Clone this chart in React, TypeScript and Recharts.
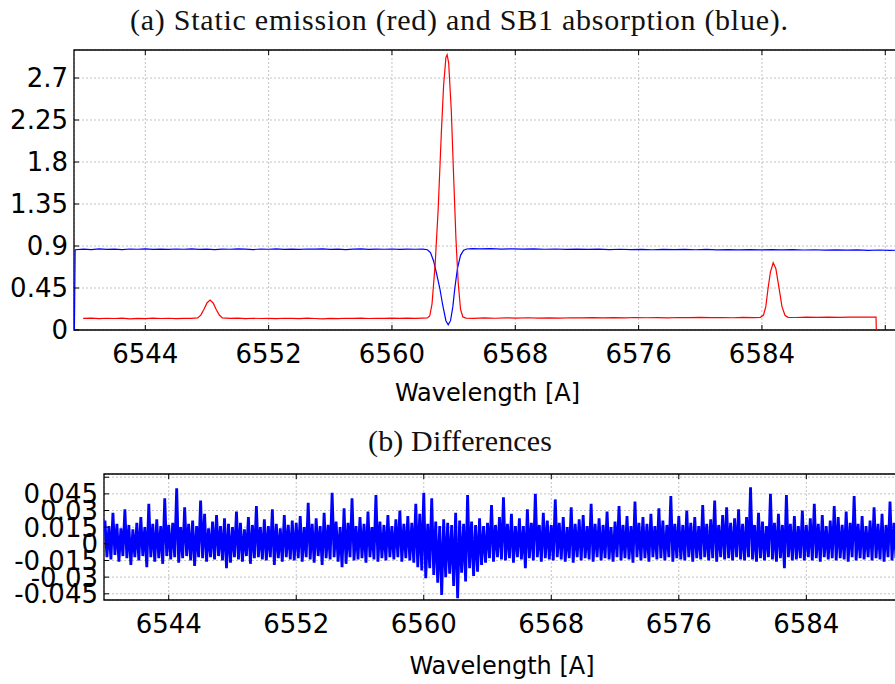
import React from 'react';
import { LineChart, Line, XAxis, YAxis, CartesianGrid, ReferenceArea } from 'recharts';

// ---------- Panel (a): static emission (red) and SB1 absorption (blue) ----------
const redWave = [
  6539.97, 6540.5, 6541.0, 6541.5, 6542.0, 6542.5, 6543.0, 6543.5, 6544.0, 6544.5, 6545.0, 6545.5,
  6546.0, 6546.5, 6547.0, 6547.4, 6547.6, 6547.8, 6548.0, 6548.2, 6548.4, 6548.6, 6548.8, 6549.0,
  6549.5, 6550.0, 6550.5, 6551.0, 6551.5, 6552.0, 6552.5, 6553.0, 6553.5, 6554.0, 6554.5, 6555.0,
  6555.5, 6556.0, 6556.5, 6557.0, 6557.5, 6558.0, 6558.5, 6559.0, 6559.5, 6560.0, 6560.5, 6561.0,
  6561.5, 6562.0, 6562.3, 6562.45, 6562.6, 6562.8, 6563.0, 6563.2, 6563.35, 6563.5, 6563.58, 6563.68,
  6563.85, 6564.0, 6564.15, 6564.3, 6564.45, 6564.6, 6564.8, 6565.3, 6566.0, 6566.7, 6567.4, 6568.1,
  6568.8, 6569.5, 6570.2, 6570.9, 6571.6, 6572.3, 6573.0, 6573.7, 6574.4, 6575.1, 6575.8, 6576.5,
  6577.2, 6577.9, 6578.6, 6579.3, 6580.0, 6580.7, 6581.4, 6582.1, 6582.8, 6583.5, 6583.9, 6584.1,
  6584.25, 6584.4, 6584.55, 6584.73, 6584.9, 6585.1, 6585.3, 6585.5, 6585.7, 6586.2, 6586.9, 6587.6,
  6588.3, 6589.0, 6589.7, 6590.4, 6591.1, 6591.4, 6591.42,
];
const redFlux = [
  0.124, 0.128, 0.121, 0.126, 0.123, 0.127, 0.120, 0.125, 0.122, 0.127, 0.123, 0.126,
  0.121, 0.125, 0.124, 0.129, 0.16, 0.22, 0.29, 0.32, 0.29, 0.22, 0.16, 0.13,
  0.124, 0.127, 0.122, 0.126, 0.123, 0.125, 0.121, 0.126, 0.124, 0.122, 0.127, 0.123,
  0.120, 0.125, 0.122, 0.126, 0.124, 0.127, 0.123, 0.126, 0.124, 0.128, 0.125, 0.127,
  0.124, 0.128, 0.13, 0.15, 0.28, 0.7, 1.3, 2.1, 2.62, 2.92, 2.95, 2.86,
  2.35, 1.65, 0.98, 0.5, 0.22, 0.14, 0.128, 0.125, 0.129, 0.126, 0.13, 0.127,
  0.131, 0.128, 0.13, 0.127, 0.131, 0.129, 0.132, 0.129, 0.133, 0.13, 0.134, 0.131,
  0.133, 0.13, 0.134, 0.132, 0.135, 0.132, 0.134, 0.131, 0.135, 0.133, 0.136, 0.16,
  0.25, 0.45, 0.62, 0.72, 0.66, 0.46, 0.25, 0.155, 0.136, 0.134, 0.137, 0.135,
  0.138, 0.136, 0.139, 0.137, 0.138, 0.137, 0,
];

const blueWave = [
  6539.4, 6539.45, 6540.0, 6540.5, 6541.0, 6541.5, 6542.0, 6542.5, 6543.0, 6543.5, 6544.0, 6544.5,
  6545.0, 6545.5, 6546.0, 6546.5, 6547.0, 6547.5, 6548.0, 6548.5, 6549.0, 6549.5, 6550.0, 6550.5,
  6551.0, 6551.5, 6552.0, 6552.5, 6553.0, 6553.5, 6554.0, 6554.5, 6555.0, 6555.5, 6556.0, 6556.5,
  6557.0, 6557.5, 6558.0, 6558.5, 6559.0, 6559.5, 6560.0, 6560.5, 6561.0, 6561.5, 6562.0, 6562.3,
  6562.5, 6562.7, 6562.9, 6563.1, 6563.3, 6563.5, 6563.65, 6563.8, 6563.95, 6564.08, 6564.25, 6564.45,
  6564.65, 6564.85, 6565.2, 6565.7, 6566.4, 6567.1, 6567.8, 6568.5, 6569.2, 6569.9, 6570.6, 6571.3,
  6572.0, 6572.7, 6573.4, 6574.1, 6574.8, 6575.5, 6576.2, 6576.9, 6577.6, 6578.3, 6579.0, 6579.7,
  6580.4, 6581.1, 6581.8, 6582.5, 6583.2, 6583.9, 6584.6, 6585.3, 6586.0, 6586.7, 6587.4, 6588.1,
  6588.8, 6589.5, 6590.2, 6590.9, 6591.6, 6592.3, 6593.0, 6593.3,
];
const blueFlux = [
  0, 0.86, 0.866, 0.861, 0.869, 0.864, 0.867, 0.862, 0.868, 0.865, 0.87, 0.864,
  0.867, 0.863, 0.868, 0.865, 0.869, 0.864, 0.866, 0.862, 0.867, 0.865, 0.869, 0.866,
  0.862, 0.868, 0.865, 0.869, 0.864, 0.867, 0.863, 0.868, 0.866, 0.869, 0.864, 0.867,
  0.862, 0.866, 0.869, 0.864, 0.867, 0.865, 0.868, 0.864, 0.867, 0.865, 0.866, 0.86,
  0.83, 0.74, 0.6, 0.45, 0.26, 0.1, 0.055, 0.1, 0.25, 0.45, 0.66, 0.8,
  0.855, 0.868, 0.872, 0.869, 0.871, 0.867, 0.87, 0.866, 0.869, 0.865, 0.868, 0.864,
  0.867, 0.863, 0.866, 0.862, 0.865, 0.861, 0.864, 0.86, 0.864, 0.861, 0.863, 0.86,
  0.863, 0.859, 0.862, 0.858, 0.861, 0.858, 0.862, 0.859, 0.861, 0.857, 0.86, 0.856,
  0.859, 0.855, 0.858, 0.854, 0.857, 0.853, 0.856, 0.855,
];

const topXTicks = [6544, 6552, 6560, 6568, 6576, 6584, 6592];
const topXLabels = ['6544', '6552', '6560', '6568', '6576', '6584', ''];
const topXMinor = [6540, 6542, 6546, 6548, 6550, 6554, 6556, 6558, 6562, 6564, 6566, 6570, 6572, 6574, 6578, 6580, 6582, 6586, 6588, 6590];
const topYTicks = [0, 0.45, 0.9, 1.35, 1.8, 2.25, 2.7];
const topYLabels = ['0', '0.45', '0.9', '1.35', '1.8', '2.25', '2.7'];
const topYMinor = [0.15, 0.3, 0.6, 0.75, 1.05, 1.2, 1.5, 1.65, 1.95, 2.1, 2.4, 2.55, 2.85];

// ---------- Panel (b): differences ----------
const diffStart = 6540.0;
const diffStep = 0.125;
const diffValues = [
  0.021, -0.012, 0.016, -0.014, 0.028, -0.010, 0.018, -0.016, 0.014, -0.011, 0.031, -0.013, 0.017, -0.019, 0.013, -0.012,
  0.019, -0.015, 0.024, -0.011, 0.015, -0.021, 0.036, -0.012, 0.018, -0.016, 0.022, -0.013, 0.016, -0.018, 0.041, -0.011,
  0.017, -0.014, 0.019, -0.012, 0.050, -0.017, 0.015, -0.013, 0.033, -0.011, 0.018, -0.015, 0.021, -0.020, 0.016, -0.012,
  0.039, -0.013, 0.027, -0.016, 0.014, -0.012, 0.020, -0.014, 0.026, -0.011, 0.016, -0.015, 0.023, -0.022, 0.018, -0.017,
  0.015, -0.012, 0.029, -0.014, 0.019, -0.016, 0.013, -0.011, 0.024, -0.018, 0.017, -0.013, 0.034, -0.012, 0.015, -0.014,
  0.022, -0.015, 0.016, -0.012, 0.031, -0.019, 0.018, -0.013, 0.014, -0.016, 0.026, -0.012, 0.017, -0.014, 0.021, -0.015,
  0.019, -0.013, 0.025, -0.016, 0.015, -0.012, 0.037, -0.014, 0.018, -0.017, 0.023, -0.011, 0.016, -0.019, 0.028, -0.013,
  0.017, -0.014, 0.046, -0.012, 0.020, -0.016, 0.015, -0.021, 0.032, -0.018, 0.019, -0.012, 0.041, -0.015, 0.016, -0.014,
  0.024, -0.013, 0.018, -0.017, 0.029, -0.012, 0.015, -0.014, 0.044, -0.016, 0.020, -0.013, 0.017, -0.015, 0.026, -0.012,
  0.016, -0.014, 0.022, -0.012, 0.030, -0.016, 0.018, -0.013, 0.025, -0.015, 0.019, -0.017, 0.036, -0.021, 0.027, -0.024,
  0.046, -0.031, 0.018, -0.022, 0.041, -0.028, 0.020, -0.035, 0.016, -0.046, 0.022, -0.030, 0.019, -0.027, 0.017, -0.038,
  0.028, -0.049, 0.021, -0.026, 0.018, -0.034, 0.044, -0.022, 0.020, -0.029, 0.017, -0.025, 0.023, -0.019, 0.016, -0.017,
  0.019, -0.013, 0.035, -0.016, 0.017, -0.012, 0.024, -0.014, 0.042, -0.015, 0.018, -0.013, 0.027, -0.017, 0.016, -0.012,
  0.023, -0.014, 0.016, -0.022, 0.031, -0.013, 0.019, -0.015, 0.045, -0.012, 0.017, -0.016, 0.028, -0.013, 0.021, -0.014,
  0.017, -0.015, 0.040, -0.012, 0.019, -0.014, 0.024, -0.016, 0.015, -0.013, 0.033, -0.017, 0.018, -0.012, 0.022, -0.015,
  0.026, -0.013, 0.016, -0.014, 0.036, -0.016, 0.018, -0.012, 0.023, -0.015, 0.017, -0.013, 0.029, -0.014, 0.015, -0.016,
  0.020, -0.012, 0.034, -0.015, 0.017, -0.013, 0.025, -0.014, 0.016, -0.017, 0.038, -0.012, 0.019, -0.015, 0.024, -0.013,
  0.018, -0.016, 0.027, -0.012, 0.016, -0.014, 0.032, -0.013, 0.021, -0.015, 0.017, -0.012, 0.043, -0.016, 0.018, -0.013,
  0.025, -0.014, 0.017, -0.015, 0.030, -0.012, 0.019, -0.016, 0.024, -0.013, 0.016, -0.014, 0.035, -0.012, 0.018, -0.015,
  0.022, -0.013, 0.039, -0.016, 0.017, -0.012, 0.026, -0.014, 0.033, -0.013, 0.019, -0.015, 0.023, -0.012, 0.031, -0.014,
  0.018, -0.015, 0.024, -0.012, 0.051, -0.014, 0.017, -0.016, 0.028, -0.013, 0.020, -0.015, 0.016, -0.012, 0.045, -0.014,
  0.019, -0.016, 0.027, -0.013, 0.017, -0.022, 0.044, -0.012, 0.018, -0.015, 0.025, -0.014, 0.016, -0.013, 0.030, -0.015,
  0.017, -0.012, 0.023, -0.015, 0.036, -0.013, 0.018, -0.016, 0.026, -0.012, 0.016, -0.014, 0.021, -0.013, 0.034, -0.015,
  0.024, -0.013, 0.017, -0.014, 0.029, -0.016, 0.019, -0.012, 0.043, -0.015, 0.018, -0.013, 0.025, -0.014, 0.016, -0.012,
  0.021, -0.015, 0.033, -0.013, 0.018, -0.014, 0.027, -0.016, 0.017, -0.012, 0.038, -0.015, 0.019, -0.013, 0.024, -0.014,
  0.026, -0.013, 0.018,
];

const botXTicks = [6544, 6552, 6560, 6568, 6576, 6584];
const botXLabels = ['6544', '6552', '6560', '6568', '6576', '6584'];
const botXMinor = [6540, 6542, 6546, 6548, 6550, 6554, 6556, 6558, 6562, 6564, 6566, 6570, 6572, 6574, 6578, 6580, 6582, 6586, 6588, 6590];
const botYTicks = [-0.045, -0.03, -0.015, 0, 0.015, 0.03, 0.045, 0.06];
const botYLabels = ['-0.045', '-0.03', '-0.015', '0', '0.015', '0.03', '0.045', ''];
const botYMinor = [-0.0375, -0.0225, -0.0075, 0.0075, 0.0225, 0.0375, 0.0525];

// ---------- layout ----------
const TOPF = { left: 74, top: 50, bottom: 330, right: 905 };
const BOTF = { left: 104, top: 474, bottom: 600, right: 905 };
const TOP_XDOM: [number, number] = [6539.375, 6593.28];
const TOP_YDOM: [number, number] = [0, 3.0];
const BOT_XDOM: [number, number] = [6539.94, 6590.19];
const BOT_YDOM: [number, number] = [-0.0506, 0.0629];

const tickFont = { fontFamily: "'DejaVu Sans', sans-serif", fontSize: 26, fill: '#000' };
const MAJ = 5;
const MIN = 3;

type Frame = { left: number; top: number; bottom: number; right: number };

function makeXTick(f: Frame, len: number, ticks: number[] | null, labels: string[] | null, baseline: number) {
  return (props: any) => {
    const { x, payload } = props;
    const idx = ticks ? ticks.indexOf(payload.value) : -1;
    const label = labels && idx >= 0 ? labels[idx] : '';
    return (
      <g>
        <line x1={x} x2={x} y1={f.bottom} y2={f.bottom - len} stroke="#000" strokeWidth={1} />
        <line x1={x} x2={x} y1={f.top} y2={f.top + len} stroke="#000" strokeWidth={1} />
        {label ? (
          <text x={x} y={baseline} textAnchor="middle" {...tickFont}>
            {label}
          </text>
        ) : null}
      </g>
    );
  };
}

function makeYTick(f: Frame, len: number, ticks: number[] | null, labels: string[] | null) {
  return (props: any) => {
    const { y, payload } = props;
    let idx = -1;
    if (ticks) ticks.forEach((t, i) => { if (Math.abs(t - payload.value) < 1e-9) idx = i; });
    const label = labels && idx >= 0 ? labels[idx] : '';
    return (
      <g>
        <line x1={f.left} x2={f.left + len} y1={y} y2={y} stroke="#000" strokeWidth={1} />
        {label ? (
          <text x={f.left - 6} y={y + 9.4} textAnchor="end" {...tickFont}>
            {label}
          </text>
        ) : null}
      </g>
    );
  };
}

const redData = redWave.map((w, i) => ({ w, v: redFlux[i] }));
const blueData = blueWave.map((w, i) => ({ w, v: blueFlux[i] }));
const diffData = diffValues.map((v, i) => ({ w: diffStart + i * diffStep, v }));

const gridProps = { stroke: '#b4b4b4', strokeDasharray: '2 2', strokeWidth: 0.8 };

export default function App() {
  return (
    <div style={{ position: 'absolute', left: 0, top: 0, width: 895, height: 684, overflow: 'hidden', background: '#fff' }}>
      {/* Panel (a) */}
      <div style={{ position: 'absolute', left: 0, top: 0 }}>
        <LineChart width={TOPF.right} height={420} margin={{ top: TOPF.top, right: 0, bottom: 0, left: 0 }}>
          <CartesianGrid {...gridProps} />
          <XAxis
            dataKey="w" type="number" domain={TOP_XDOM} allowDataOverflow ticks={topXTicks} interval={0}
            height={90} axisLine={false} tickLine={false}
            tick={makeXTick(TOPF, MAJ, topXTicks, topXLabels, 363)}
          />
          <XAxis
            xAxisId="m" dataKey="w" type="number" domain={TOP_XDOM} allowDataOverflow ticks={topXMinor} interval={0}
            height={0} axisLine={false} tickLine={false}
            tick={makeXTick(TOPF, MIN, null, null, 0)}
          />
          <YAxis
            type="number" domain={TOP_YDOM} allowDataOverflow ticks={topYTicks} interval={0}
            width={74} axisLine={false} tickLine={false}
            tick={makeYTick(TOPF, MAJ, topYTicks, topYLabels)}
          />
          <YAxis
            yAxisId="m" type="number" domain={TOP_YDOM} allowDataOverflow ticks={topYMinor} interval={0}
            width={0} axisLine={false} tickLine={false}
            tick={makeYTick(TOPF, MIN, null, null)}
          />
          <Line data={blueData} dataKey="v" stroke="#0000ff" strokeWidth={1.2} dot={false} isAnimationActive={false} type="linear" />
          <Line data={redData} dataKey="v" stroke="#ff0000" strokeWidth={1.2} dot={false} isAnimationActive={false} type="linear" />
          <ReferenceArea x1={TOP_XDOM[0]} x2={TOP_XDOM[1]} y1={TOP_YDOM[0]} y2={TOP_YDOM[1]} fill="none" fillOpacity={0} stroke="#000" strokeWidth={1.3} ifOverflow="visible" />
        </LineChart>
      </div>

      {/* Panel (b) */}
      <div style={{ position: 'absolute', left: 0, top: 0 }}>
        <LineChart width={BOTF.right} height={684} margin={{ top: BOTF.top, right: 0, bottom: 0, left: 0 }}>
          <CartesianGrid {...gridProps} />
          <XAxis
            dataKey="w" type="number" domain={BOT_XDOM} allowDataOverflow ticks={botXTicks} interval={0}
            height={84} axisLine={false} tickLine={false}
            tick={makeXTick(BOTF, MAJ, botXTicks, botXLabels, 633)}
          />
          <XAxis
            xAxisId="m" dataKey="w" type="number" domain={BOT_XDOM} allowDataOverflow ticks={botXMinor} interval={0}
            height={0} axisLine={false} tickLine={false}
            tick={makeXTick(BOTF, MIN, null, null, 0)}
          />
          <YAxis
            type="number" domain={BOT_YDOM} allowDataOverflow ticks={botYTicks} interval={0}
            width={104} axisLine={false} tickLine={false}
            tick={makeYTick(BOTF, MAJ, botYTicks, botYLabels)}
          />
          <YAxis
            yAxisId="m" type="number" domain={BOT_YDOM} allowDataOverflow ticks={botYMinor} interval={0}
            width={0} axisLine={false} tickLine={false}
            tick={makeYTick(BOTF, MIN, null, null)}
          />
          <Line data={diffData} dataKey="v" stroke="#0000ff" strokeWidth={2.8} strokeLinejoin="bevel" dot={false} isAnimationActive={false} type="linear" />
          <ReferenceArea x1={BOT_XDOM[0]} x2={BOT_XDOM[1]} y1={BOT_YDOM[0]} y2={BOT_YDOM[1]} fill="none" fillOpacity={0} stroke="#000" strokeWidth={1.3} ifOverflow="visible" />
        </LineChart>
      </div>

      {/* Titles and axis labels */}
      <svg width={895} height={684} style={{ position: 'absolute', left: 0, top: 0, pointerEvents: 'none' }}>
        <text x={130} y={30} fontFamily="'Liberation Serif', serif" fontSize={30} fill="#111" textLength={658} lengthAdjust="spacing">
          (a) Static emission (red) and SB1 absorption (blue).
        </text>
        <text x={487.5} y={401} textAnchor="middle" fontFamily="'DejaVu Sans', sans-serif" fontSize={24} fill="#000">
          Wavelength [A]
        </text>
        <text x={368} y={451} fontFamily="'Liberation Serif', serif" fontSize={30} fill="#111" textLength={184} lengthAdjust="spacing">
          (b) Differences
        </text>
        <text x={502} y={674} textAnchor="middle" fontFamily="'DejaVu Sans', sans-serif" fontSize={24} fill="#000">
          Wavelength [A]
        </text>
      </svg>
    </div>
  );
}
